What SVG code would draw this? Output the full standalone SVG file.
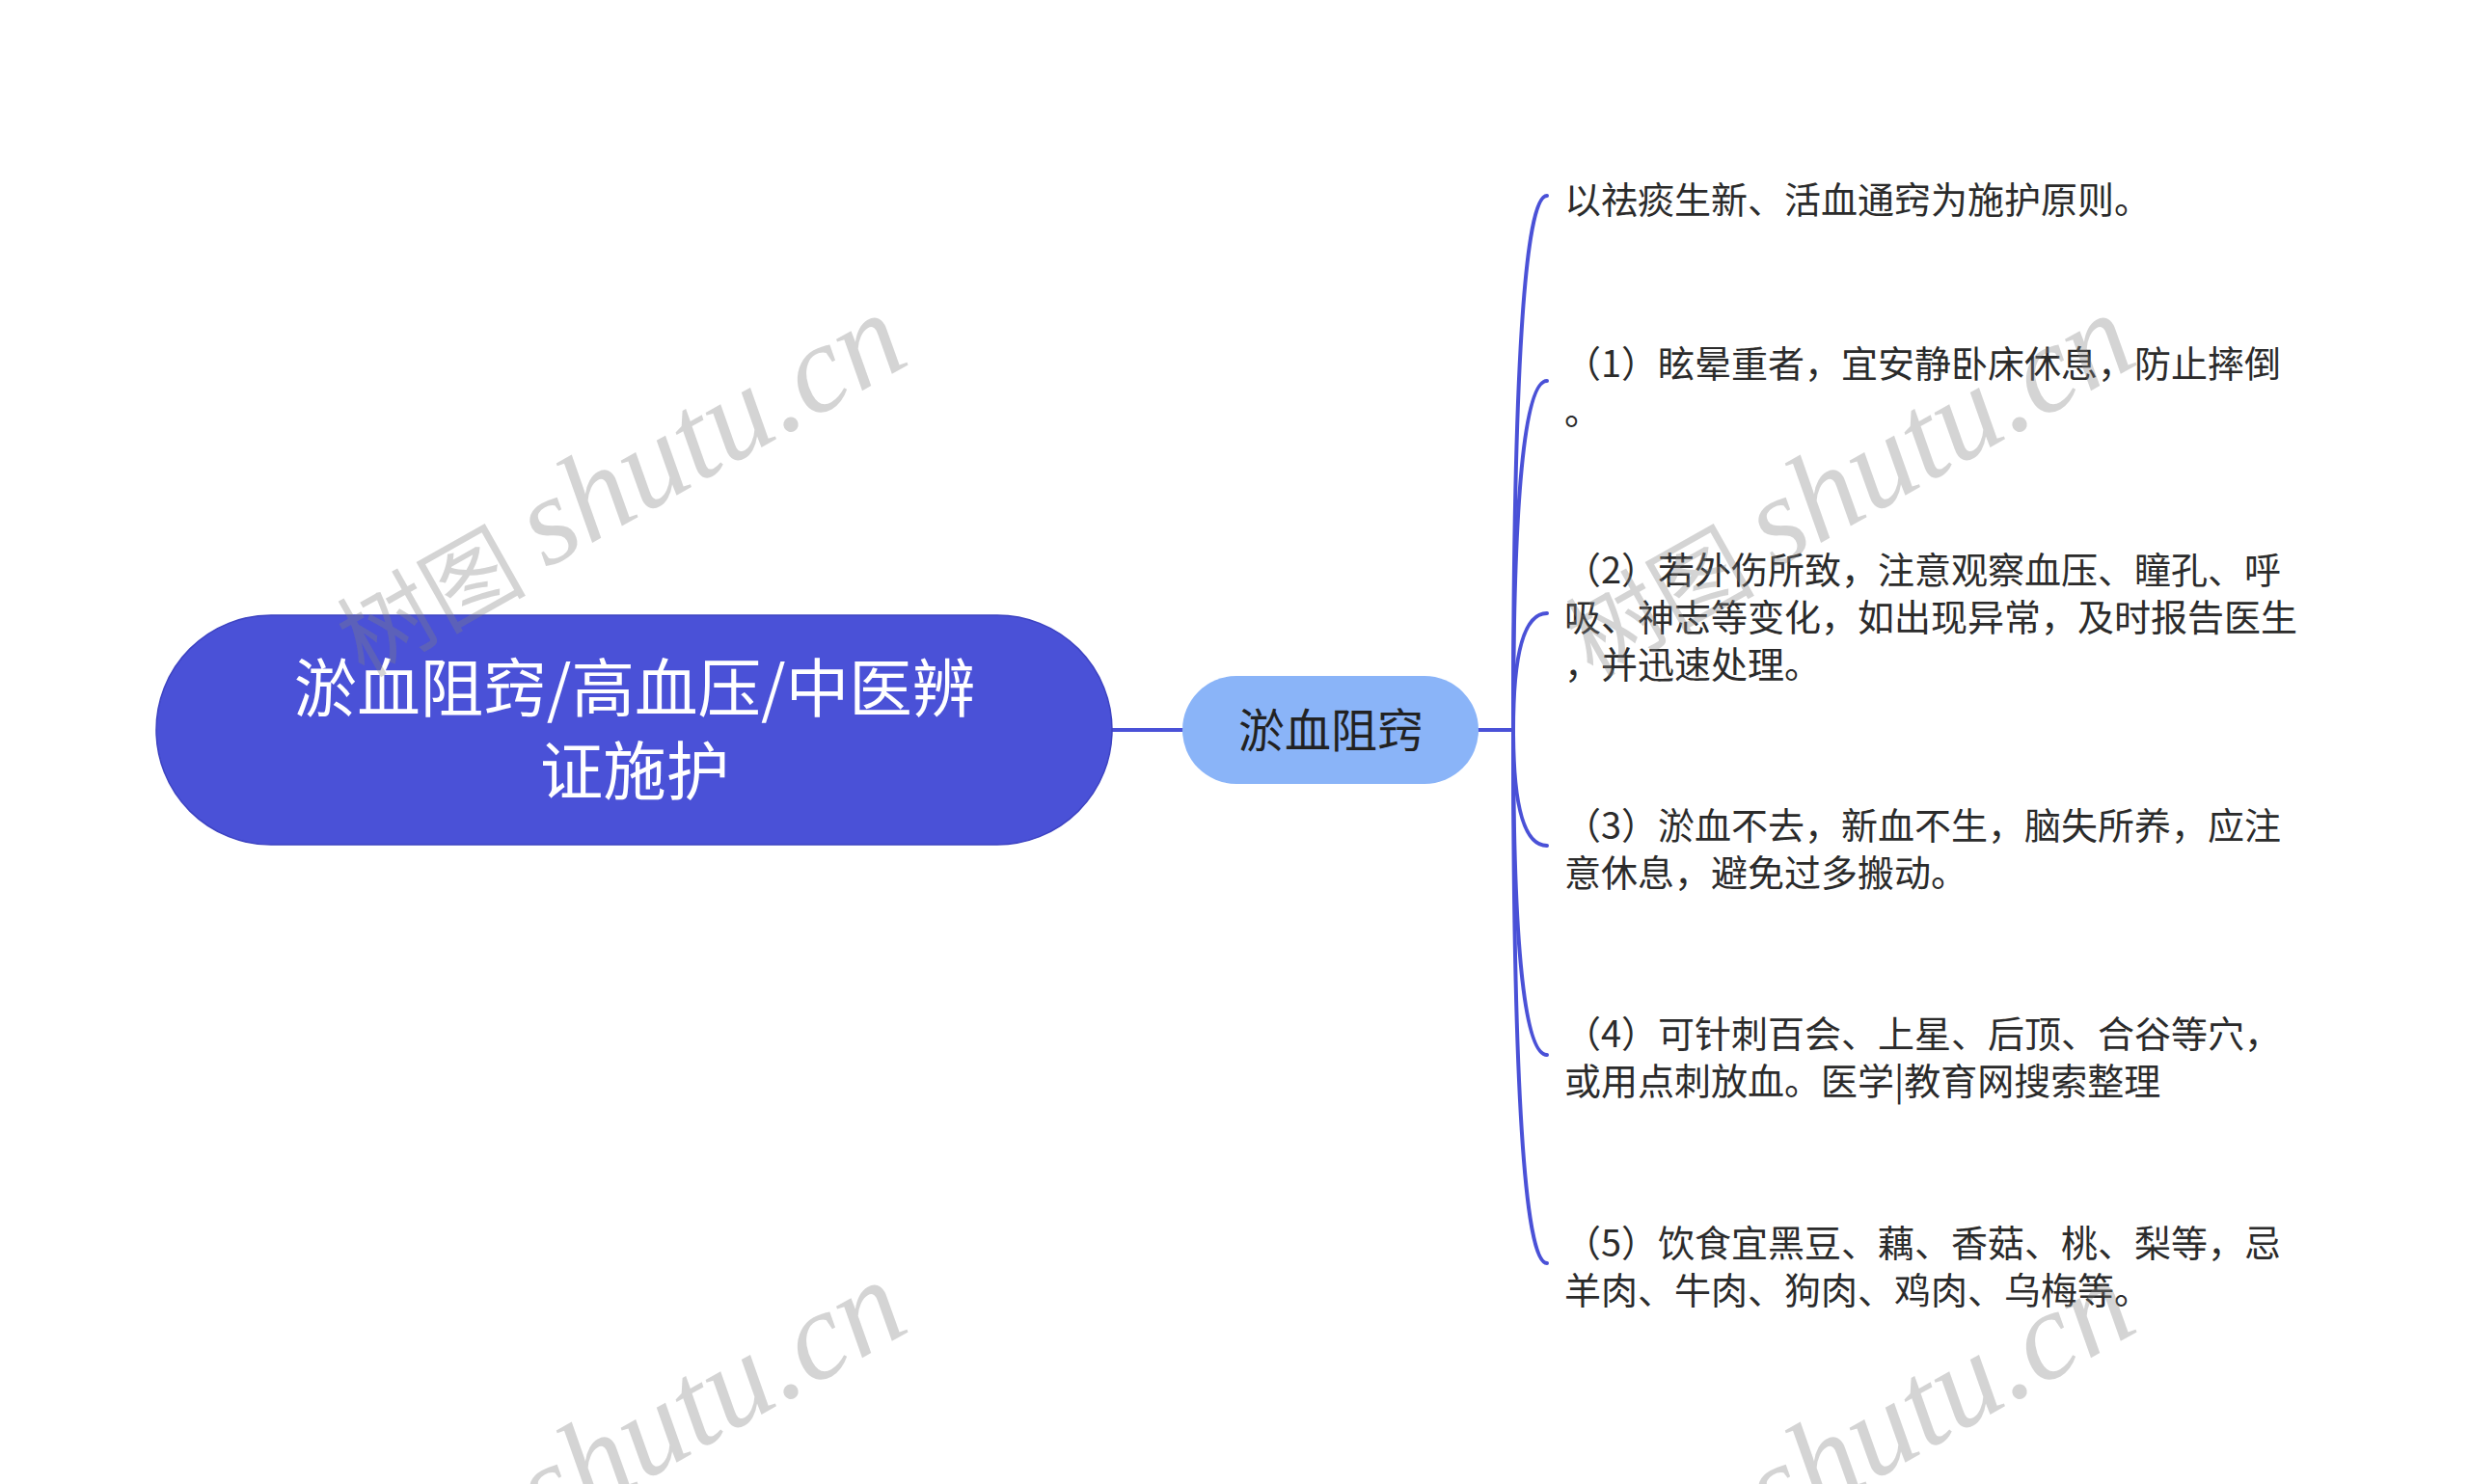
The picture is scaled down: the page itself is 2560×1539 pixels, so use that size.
<svg xmlns="http://www.w3.org/2000/svg" width="2560" height="1539" viewBox="0 0 2560 1539">
<style>
.cjk{font-family:"Noto Sans CJK SC","Noto Sans",sans-serif}
.root-t{fill:#ffffff;font-size:65.5px;text-anchor:middle}
.n2-t{fill:#222222;font-size:48px;text-anchor:middle}
.leaf{fill:#2b2b2b;font-size:38px}
.conn{fill:none;stroke:#4a51d7;stroke-width:4;stroke-linecap:round}
.wm{fill:#808080;fill-opacity:0.34}
.wm-cn{font-family:"Noto Sans CJK SC",serif;font-size:98px}
.wm-en{font-family:"Liberation Serif","Times New Roman",serif;font-style:italic;font-size:130px}
</style>
<rect x="0" y="0" width="2560" height="1539" fill="#ffffff"/>
<g id="connectors">
<path class="conn" d="M1153 757 L1226 757"/>
<path class="conn" d="M1533 757 L1569 757"/>
<path class="conn" d="M1569 757 Q1569 203 1604 203"/>
<path class="conn" d="M1569 757 Q1569 395 1604 395"/>
<path class="conn" d="M1569 757 Q1569 636 1604 636"/>
<path class="conn" d="M1569 757 Q1569 877 1604 877"/>
<path class="conn" d="M1569 757 Q1569 1094 1604 1094"/>
<path class="conn" d="M1569 757 Q1569 1310 1604 1310"/>
</g>
<g id="root">
<rect x="162" y="638" width="991" height="238" rx="119" ry="119" fill="#4a51d7" stroke="#3d43c2" stroke-width="1.5"/>
<text class="cjk root-t" x="658" y="738">淤血阻窍/高血压/中医辨</text>
<text class="cjk root-t" x="658" y="824">证施护</text>
</g>
<g id="node-main">
<rect x="1226" y="701" width="307" height="112" rx="56" ry="56" fill="#8ab4f8"/>
<text class="cjk n2-t" x="1380" y="775">淤血阻窍</text>
</g>
<g id="leaf-0">
<text class="cjk leaf" x="1622" y="221">以祛痰生新、活血通窍为施护原则。</text>
</g>
<g id="leaf-1">
<text class="cjk leaf" x="1622" y="391">（1）眩晕重者，宜安静卧床休息，防止摔倒</text>
<text class="cjk leaf" x="1622" y="440">。</text>
</g>
<g id="leaf-2">
<text class="cjk leaf" x="1622" y="605">（2）若外伤所致，注意观察血压、瞳孔、呼</text>
<text class="cjk leaf" x="1622" y="654">吸、神志等变化，如出现异常，及时报告医生</text>
<text class="cjk leaf" x="1622" y="703">，并迅速处理。</text>
</g>
<g id="leaf-3">
<text class="cjk leaf" x="1622" y="870">（3）淤血不去，新血不生，脑失所养，应注</text>
<text class="cjk leaf" x="1622" y="919">意休息，避免过多搬动。</text>
</g>
<g id="leaf-4">
<text class="cjk leaf" x="1622" y="1086">（4）可针刺百会、上星、后顶、合谷等穴，</text>
<text class="cjk leaf" x="1622" y="1135">或用点刺放血。医学|教育网搜索整理</text>
</g>
<g id="leaf-5">
<text class="cjk leaf" x="1622" y="1303">（5）饮食宜黑豆、藕、香菇、桃、梨等，忌</text>
<text class="cjk leaf" x="1622" y="1352">羊肉、牛肉、狗肉、鸡肉、乌梅等。</text>
</g>
<g id="watermarks" class="wm">
<g transform="translate(566,590) rotate(-29.4)"><text class="wm-cn" x="-220" y="6">树图</text><text class="wm-en" x="0" y="0">shutu.cn</text></g>
<g transform="translate(1840,590) rotate(-29.4)"><text class="wm-cn" x="-220" y="6">树图</text><text class="wm-en" x="0" y="0">shutu.cn</text></g>
<g transform="translate(566,1593) rotate(-29.4)"><text class="wm-cn" x="-220" y="6">树图</text><text class="wm-en" x="0" y="0">shutu.cn</text></g>
<g transform="translate(1840,1593) rotate(-29.4)"><text class="wm-cn" x="-220" y="6">树图</text><text class="wm-en" x="0" y="0">shutu.cn</text></g>
</g>
</svg>
